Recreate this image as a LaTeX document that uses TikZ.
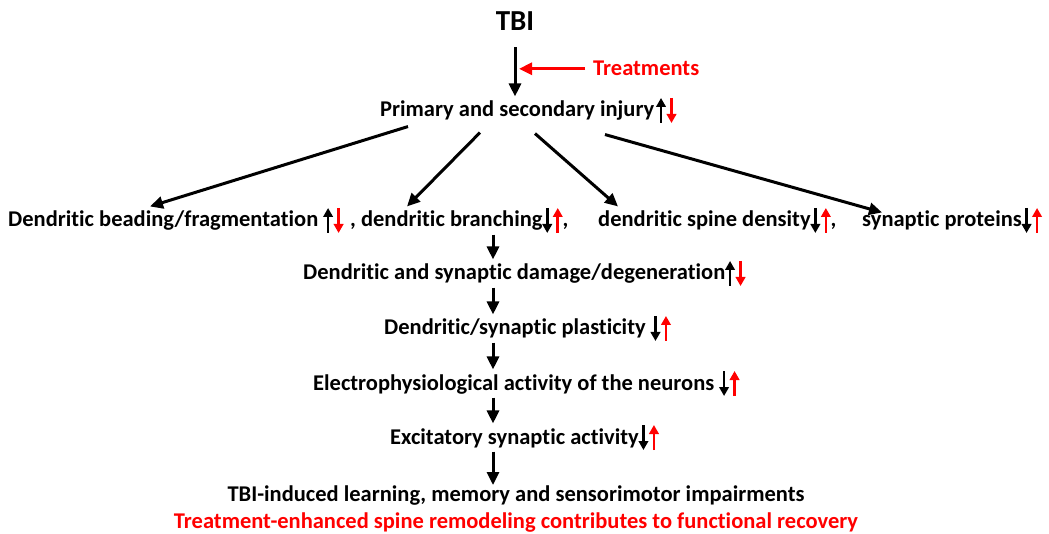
\documentclass[tikz,border=0pt]{standalone}
\usepackage{fontspec}
\setmainfont{Carlito}[Ligatures=NoCommon]
\usetikzlibrary{arrows.meta}

\newcommand{\arrup}[1]{\tikz[baseline=0pt]\draw[#1, line width=2.7pt, -{Triangle[length=9pt,width=9.5pt]}] (0pt,-6pt) -- (0pt,19pt);}
\newcommand{\arrdn}[1]{\tikz[baseline=0pt]\draw[#1, line width=2.7pt, -{Triangle[length=9pt,width=9.5pt]}] (0pt,19pt) -- (0pt,-6pt);}
\newcommand{\updn}{\arrup{black}\hspace{1pt}\arrdn{red}}
\newcommand{\dnup}{\arrdn{black}\hspace{1pt}\arrup{red}}

\begin{document}
\begin{tikzpicture}[
  x=1pt, y=-1pt,
  txt/.style={inner sep=0pt, anchor=base west, font=\bfseries\fontsize{22.5}{27}\selectfont},
  arrow/.style={-{Triangle[length=13pt,width=12pt]}, line width=3pt},
  redarrow/.style={arrow, red}
]
\useasboundingbox (0,0) rectangle (1049,534);
\coordinate (axis) at (493,0);

\node[txt, anchor=base, font=\bfseries\fontsize{29}{34}\selectfont] (tbi) at (515,31) {TBI};
\node[txt, red] (treat) at (593,76) {Treatments};
\node[txt] (prim) at (380,117) {Primary and secondary injury\hspace{2pt}\updn};

\node[txt] (bead) at (8,227) {Dendritic beading/fragmentation \updn};
\node[txt] (branch) at (350,227) {, dendritic branching\dnup,};
\node[txt] (spine) at (598,227) {dendritic spine density\dnup,};
\node[txt] (prot) at (862,227) {synaptic proteins\dnup};

\node[txt] (damage) at (303,280) {Dendritic and synaptic damage/degeneration\updn};
\node[txt] (plast) at (384,335) {Dendritic/synaptic plasticity \dnup};
\node[txt] (electro) at (313,390) {Electrophysiological activity of the neurons \dnup};
\node[txt] (excit) at (390,444) {Excitatory synaptic activity\dnup};
\node[txt, anchor=base] (impair) at (516,501) {TBI-induced learning, memory and sensorimotor impairments};
\node[txt, anchor=base, red] (recov) at (516,528) {Treatment-enhanced spine remodeling contributes to functional recovery};

\draw[arrow] ([yshift=-16pt]tbi.south) -- (prim.north -| tbi.south);
\draw[redarrow, shorten <=8pt, shorten >=4pt] (treat.west) -- (treat.west -| tbi.south);

\draw[arrow] ([xshift=28pt,yshift=-2pt]prim.south west) -- ([xshift=142pt]bead.north west);
\draw[arrow] ([xshift=100pt,yshift=-8pt]prim.south west) -- ([xshift=57pt]branch.north west);
\draw[arrow] ([xshift=155pt,yshift=-9pt]prim.south west) -- ([xshift=20pt]spine.north west);
\draw[arrow] ([xshift=225pt,yshift=-10pt]prim.south west) -- ([xshift=20pt,yshift=-6pt]prot.north west);

\draw[arrow] (branch.south -| axis) -- (damage.north -| axis);
\draw[arrow] (damage.south -| axis) -- (plast.north -| axis);
\draw[arrow] (plast.south -| axis) -- (electro.north -| axis);
\draw[arrow] (electro.south -| axis) -- (excit.north -| axis);
\draw[arrow] (excit.south -| axis) -- (impair.north -| axis);
\end{tikzpicture}
\end{document}
